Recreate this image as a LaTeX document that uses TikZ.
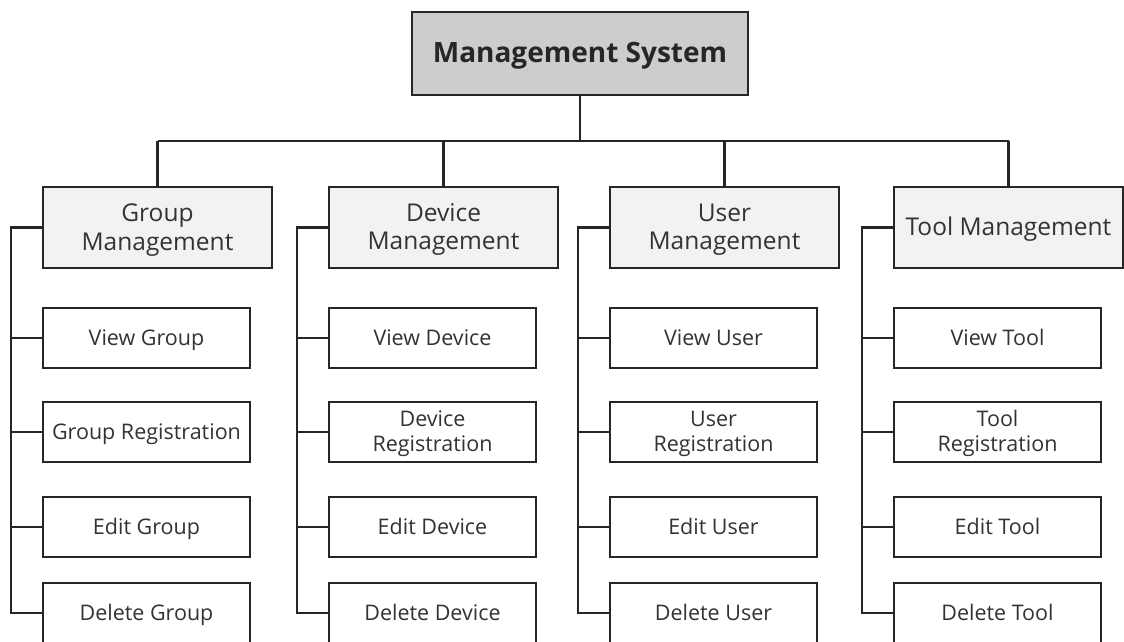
\documentclass[tikz,border=0pt]{standalone}
\usepackage{fontspec}
\setmainfont{Open Sans}
\newcommand\mystr{\rule[-0.2\baselineskip]{0pt}{\baselineskip}}
\definecolor{linec}{HTML}{262626}
\definecolor{topfill}{HTML}{CDCDCD}
\definecolor{catfill}{HTML}{F2F2F2}
\definecolor{txt}{HTML}{333333}
\begin{document}
\begin{tikzpicture}[x=1pt,y=-1pt,
  topbox/.style={draw=linec,line width=2.6pt,fill=topfill,minimum width=336pt,minimum height=83pt,inner sep=0pt,
    font=\fontsize{28}{32}\selectfont\bfseries,text=black!85},
  catbox/.style={draw=linec,line width=2.6pt,fill=catfill,minimum width=229pt,minimum height=81pt,inner sep=0pt,
    align=center,font=\fontsize{24.5}{28}\selectfont,text=txt},
  leafbox/.style={draw=linec,line width=2.6pt,fill=white,minimum width=207pt,minimum height=60pt,inner sep=0pt,
    align=center,font=\fontsize{21.5}{25}\selectfont,text=txt},
  conn/.style={draw=linec,line width=2.2pt}]
\useasboundingbox (0,0) rectangle (1124,642);
\clip (0,0) rectangle (1124,642);
\fill[white] (0,0) rectangle (1124,642);

\node[topbox] (top) at (580,53.5) {\mystr Management System};
\coordinate (bus) at (580,141);
\draw[conn] (top.south) -- (bus);

\foreach \c/\x/\cat/\la/\lb/\lc/\ld in {
  g/43/{\mystr Group\\\mystr Management}/{\mystr View Group}/{\mystr Group Registration}/{\mystr Edit Group}/{\mystr Delete Group},
  d/329/{\mystr Device\\\mystr Management}/{\mystr View Device}/{\mystr Device\\\mystr Registration}/{\mystr Edit Device}/{\mystr Delete Device},
  u/610/{\mystr User\\\mystr Management}/{\mystr View User}/{\mystr User\\\mystr Registration}/{\mystr Edit User}/{\mystr Delete User},
  t/894/{\mystr Tool Management}/{\mystr View Tool}/{\mystr Tool\\\mystr Registration}/{\mystr Edit Tool}/{\mystr Delete Tool}}{
  \node[catbox] (\c) at (\x+114.5,227.5) {\cat};
  \node[leafbox] (\c1) at (\x+103.5,338) {\la};
  \node[leafbox] (\c2) at (\x+103.5,432) {\lb};
  \node[leafbox] (\c3) at (\x+103.5,527) {\lc};
  \node[leafbox] (\c4) at (\x+103.5,613) {\ld};
  \draw[conn] (\c.north) -- (\c.north |- bus);
  \draw[conn] (\c.west) -- ++(-31,0) coordinate (\c s) -- (\c s |- \c4.west) -- (\c4.west);
  \draw[conn] (\c1.west) -- (\c s |- \c1.west);
  \draw[conn] (\c2.west) -- (\c s |- \c2.west);
  \draw[conn] (\c3.west) -- (\c s |- \c3.west);
}
\draw[conn] (g.north |- bus) -- (t.north |- bus);
\end{tikzpicture}
\end{document}
